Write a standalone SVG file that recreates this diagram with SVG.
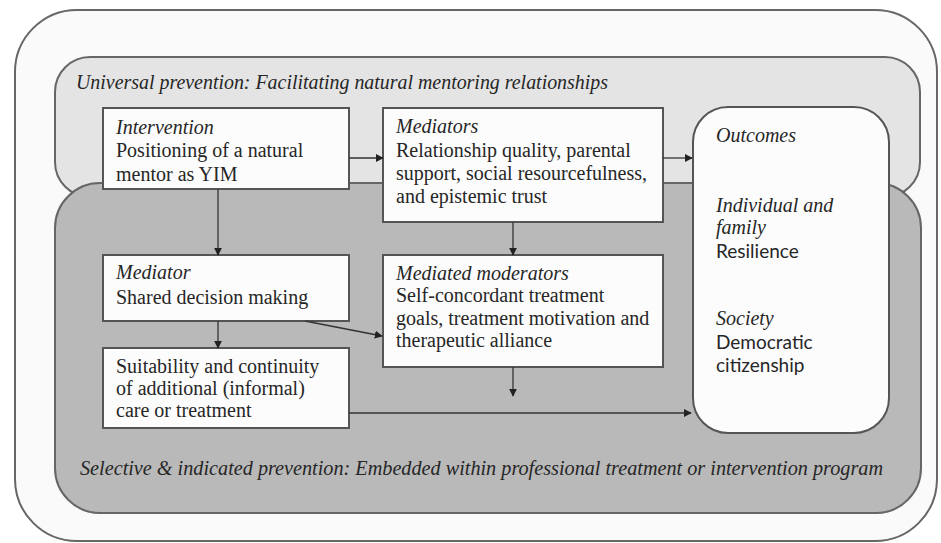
<svg xmlns="http://www.w3.org/2000/svg" width="941" height="543" viewBox="0 0 941 543">
<defs>
<marker id="ah" viewBox="0 0 10 10" refX="9" refY="5" markerWidth="8" markerHeight="8" orient="auto" markerUnits="userSpaceOnUse">
<path d="M0,0 L10,5 L0,10 z" fill="#222"/>
</marker>
</defs>
<style>
text{font-family:"Liberation Serif","DejaVu Serif",serif;font-size:20px;fill:#262626}
.i{font-style:italic}
.s{font-family:Lato,"Liberation Sans",sans-serif;font-size:19px}
.box{fill:#fcfcfc;stroke:#555;stroke-width:2}
.conn line{stroke:#333;stroke-width:1.3;marker-end:url(#ah)}
</style>
<rect id="frame" x="15" y="10" width="922" height="531" rx="62" fill="#fafafa" stroke="#666" stroke-width="2"/>
<g id="universal">
<rect x="55" y="57" width="865" height="140" rx="35" fill="#e4e4e4" stroke="#666" stroke-width="2"/>
<text class="i" x="76" y="89" textLength="532" lengthAdjust="spacingAndGlyphs">Universal prevention: Facilitating natural mentoring relationships</text>
</g>
<g id="selective">
<rect x="55" y="183" width="866" height="330" rx="45" fill="#b9b9b9" stroke="#666" stroke-width="2"/>
<text class="i" x="80" y="475" textLength="803" lengthAdjust="spacingAndGlyphs">Selective &amp; indicated prevention: Embedded within professional treatment or intervention program</text>
</g>
<g id="intervention">
<rect class="box" x="103" y="108" width="246" height="81"/>
<text class="i" x="116" y="134">Intervention</text>
<text x="116" y="157">Positioning of a natural</text>
<text x="116" y="181">mentor as YIM</text>
</g>
<g id="mediators">
<rect class="box" x="383" y="108" width="280" height="114"/>
<text class="i" x="396" y="133">Mediators</text>
<text x="396" y="157">Relationship quality, parental</text>
<text x="396" y="180">support, social resourcefulness,</text>
<text x="396" y="203">and epistemic trust</text>
</g>
<g id="outcomes">
<rect class="box" x="693" y="107" width="196" height="326" rx="35"/>
<text class="i" x="716" y="142">Outcomes</text>
<text class="i" x="716" y="212">Individual and</text>
<text class="i" x="716" y="234">family</text>
<text class="s" x="716" y="258">Resilience</text>
<text class="i" x="716" y="325">Society</text>
<text class="s" x="716" y="349">Democratic</text>
<text class="s" x="716" y="372">citizenship</text>
</g>
<g id="mediator">
<rect class="box" x="103" y="255" width="246" height="66"/>
<text class="i" x="116" y="279">Mediator</text>
<text x="116" y="304">Shared decision making</text>
</g>
<g id="moderators">
<rect class="box" x="383" y="255" width="280" height="112"/>
<text class="i" x="396" y="280">Mediated moderators</text>
<text x="396" y="302">Self-concordant treatment</text>
<text x="396" y="325">goals, treatment motivation and</text>
<text x="396" y="347">therapeutic alliance</text>
</g>
<g id="suitability">
<rect class="box" x="103" y="348" width="246" height="80"/>
<text x="116" y="373">Suitability and continuity</text>
<text x="116" y="395">of additional (informal)</text>
<text x="116" y="417">care or treatment</text>
</g>
<g class="conn" id="connectors">
<line x1="349" y1="158" x2="383" y2="158"/>
<line x1="663" y1="158" x2="692" y2="158"/>
<line x1="218" y1="189" x2="218" y2="255"/>
<line x1="513" y1="222" x2="513" y2="255"/>
<line x1="218" y1="321" x2="218" y2="348"/>
<line x1="305" y1="321" x2="382" y2="336"/>
<line x1="513" y1="367" x2="513" y2="396"/>
<line x1="349" y1="413" x2="691" y2="413"/>
</g>
</svg>
